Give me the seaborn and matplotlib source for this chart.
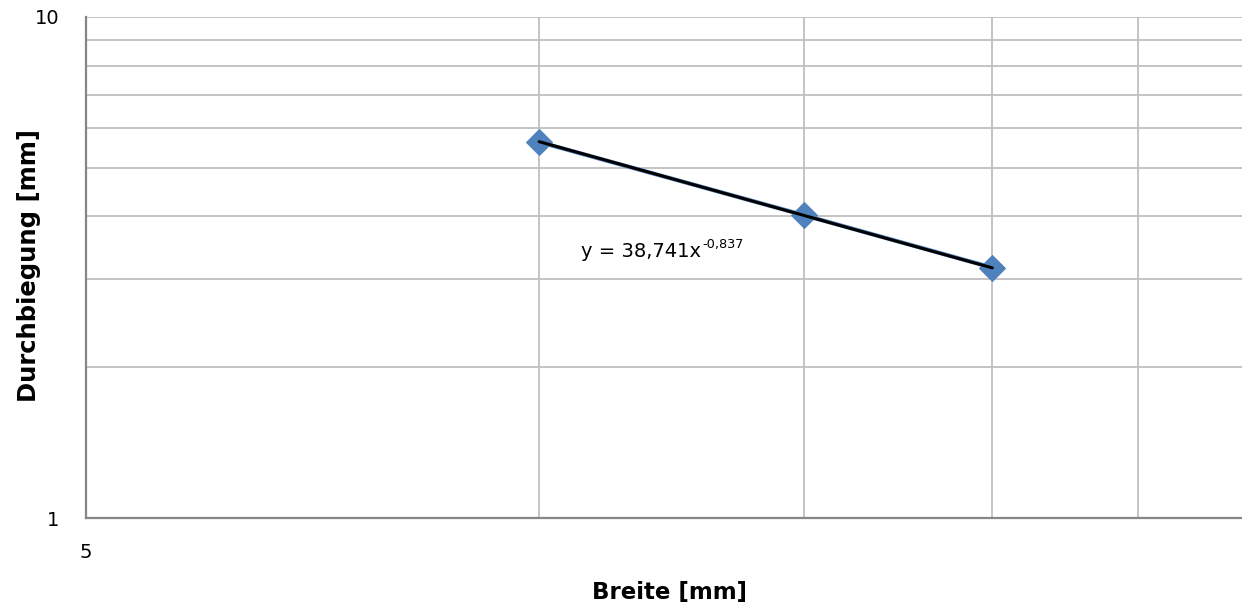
import matplotlib
matplotlib.use("Agg")
import matplotlib.pyplot as plt
import matplotlib.ticker as mticker
import numpy as np
import pandas as pd
import seaborn as sns

# ---- data ----
breite = [10, 15, 20]                 # Breite [mm]
durchbiegung = [5.63, 4.02, 3.16]     # Durchbiegung [mm]
fit_a = 38.741                        # power trendline coefficient
fit_b = -0.837                        # power trendline exponent
trend_label = "y = 38,741x"
trend_exp = "-0,837"
x_title = "Breite [mm]"
y_title = "Durchbiegung [mm]"

sns.set_theme(style="white")
plt.rcParams["font.family"] = ["DejaVu Sans"]
plt.rcParams["text.color"] = "black"

W, H = 1242, 613
fig = plt.figure(figsize=(W / 100, H / 100), dpi=100)
ax = fig.add_axes([86 / W, 1 - 518 / H, 1 - 86 / W, (518 - 17) / H])

df = pd.DataFrame({"Breite": breite, "Durchbiegung": durchbiegung})
sns.lineplot(data=df, x="Breite", y="Durchbiegung", ax=ax, color="#4F81BD",
             linewidth=3, marker="D", markersize=13, markeredgecolor="#4F81BD",
             zorder=3)

xt = np.array(breite, dtype=float)
trend = pd.DataFrame({"x": xt, "y": fit_a * xt ** fit_b})
sns.lineplot(data=trend, x="x", y="y", ax=ax, color="black", linewidth=2.2,
             zorder=4)

ax.set_xscale("log")
ax.set_yscale("log")
ax.set_xlim(5, 29.3)
ax.set_ylim(1, 10)

ax.xaxis.set_major_locator(mticker.FixedLocator([5]))
ax.xaxis.set_major_formatter(mticker.FixedFormatter(["5"]))
ax.xaxis.set_minor_locator(mticker.FixedLocator([10, 15, 20, 25]))
ax.xaxis.set_minor_formatter(mticker.NullFormatter())
ax.yaxis.set_major_locator(mticker.FixedLocator([1, 10]))
ax.yaxis.set_major_formatter(mticker.FixedFormatter(["1", "10"]))
ax.yaxis.set_minor_locator(mticker.FixedLocator([2, 3, 4, 5, 6, 7, 8, 9]))
ax.yaxis.set_minor_formatter(mticker.NullFormatter())

ax.grid(True, which="both", color="#BFBFBF", linewidth=1.3)
ax.set_axisbelow(True)

ax.tick_params(axis="both", which="major", length=0, labelsize=14,
               labelcolor="black")
ax.tick_params(axis="x", which="major", pad=18)
ax.tick_params(axis="y", which="major", pad=19)
ax.tick_params(axis="both", which="minor", direction="in", length=5,
               width=1.5, color="#868686")

for s in ["left", "bottom"]:
    ax.spines[s].set_color("#868686")
    ax.spines[s].set_linewidth(1.6)
ax.spines["top"].set_visible(False)
ax.spines["right"].set_visible(False)

ax.set_xlabel("")
ax.set_ylabel("")
fig.text(670 / W, 1 - 592 / H, x_title, fontsize=16.5, fontweight="bold",
         ha="center", va="center", color="black")
fig.text(29 / W, 1 - 266 / H, y_title, fontsize=17.5, fontweight="bold",
         ha="center", va="center", rotation=90, color="black")

t = ax.text(10.66, 3.40, trend_label, fontsize=14, va="center", ha="left",
            color="black")
ax.annotate(trend_exp, xy=(1, 1), xycoords=t, xytext=(1, 3),
            textcoords="offset points", fontsize=9.3, va="top", ha="left",
            color="black")

fig.savefig("out.png", dpi=100)
